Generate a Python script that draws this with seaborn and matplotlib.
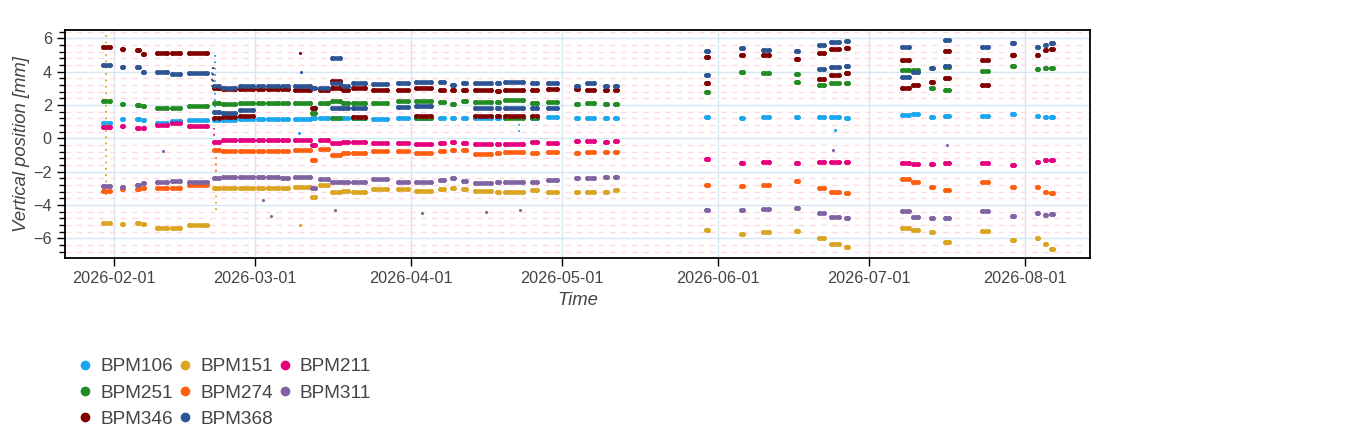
import matplotlib
matplotlib.use("Agg")
import matplotlib.pyplot as plt
import matplotlib.dates as mdates
from matplotlib.lines import Line2D
from matplotlib.ticker import MultipleLocator
import pandas as pd
import seaborn as sns

sns.set_theme(style="white")
plt.rcParams['font.family'] = ['Liberation Sans', 'DejaVu Sans']

bpms = ['BPM106', 'BPM151', 'BPM211', 'BPM251', 'BPM274', 'BPM311', 'BPM346', 'BPM368']
colors = ['#1aa7ee', '#daa520', '#e6007e', '#228b22', '#ff5f0f', '#8064a2', '#800000', '#2e5593']

# measurement sessions, days after 2026-02-01
sess_start = [-2.1, 1.5, 4.5, 5.7, 8.6, 11.5, 15.0, 19.8, 21.7, 25.0,
              28.6, 30.6, 33.4, 36.0, 39.4, 41.0, 43.3, 45.5, 47.5, 51.5,
              56.5, 60.0, 64.7, 67.1, 69.3, 71.7, 76.1, 77.8, 83.0, 86.3,
              91.8, 94.0, 97.6, 99.6, 117.6, 124.6, 129.0, 135.5, 140.2, 142.5,
              145.5, 156.6, 158.9, 162.4, 165.2, 172.6, 178.4, 183.4, 185.1, 186.3]
sess_end = [-0.8, 1.8, 4.9, 5.9, 10.5, 13.1, 18.5, 20.8, 24.0, 27.7,
            29.7, 32.6, 34.6, 39.0, 40.0, 42.5, 44.9, 46.5, 49.9, 54.2,
            58.5, 63.0, 65.5, 67.5, 70.0, 75.0, 76.5, 81.2, 84.0, 88.0,
            92.2, 95.4, 98.0, 100.0, 118.0, 125.0, 130.2, 135.9, 141.2, 144.2,
            145.9, 158.0, 159.8, 162.8, 165.9, 173.8, 178.8, 183.6, 185.3, 186.7]

# vertical position per session [mm]
bpm106 = [0.9, 1.15, 1.15, 1.1, 0.95, 1.05, 1.1, 1.12, 1.12, 1.14,
          1.14, 1.14, 1.15, 1.15, 1.2, 1.2, 1.2, 1.2, 1.2, 1.18,
          1.2, 1.2, 1.24, 1.24, 1.24, 1.24, 1.24, 1.3, 1.24, 1.28,
          1.24, 1.24, 1.2, 1.24, 1.3, 1.24, 1.3, 1.26, 1.3, 1.3,
          1.24, 1.4, 1.44, 1.3, 1.36, 1.36, 1.44, 1.36, 1.3, 1.26]
bpm151 = [-5.1, -5.15, -5.1, -5.15, -5.35, -5.35, -5.2, -2.95, -3.0, -2.98,
          -2.95, -2.95, -2.98, -2.9, -3.5, -2.8, -3.2, -3.15, -3.2, -3.05,
          -3.05, -3.13, -3.05, -3.0, -3.03, -3.15, -3.2, -3.2, -3.07, -3.2,
          -3.23, -3.2, -3.2, -3.1, -5.5, -5.73, -5.63, -5.55, -5.95, -6.35,
          -6.5, -5.4, -5.5, -5.6, -6.2, -5.55, -6.1, -5.95, -6.35, -6.65]
bpm211 = [0.7, 0.75, 0.65, 0.65, 0.8, 0.9, 0.75, -0.2, -0.1, -0.08,
          -0.1, -0.1, -0.12, -0.08, -0.4, -0.1, -0.3, -0.2, -0.24, -0.25,
          -0.3, -0.36, -0.26, -0.24, -0.3, -0.36, -0.32, -0.36, -0.24, -0.26,
          -0.14, -0.14, -0.2, -0.14, -1.26, -1.46, -1.44, -1.46, -1.4, -1.4,
          -1.4, -1.5, -1.56, -1.56, -1.5, -1.46, -1.6, -1.44, -1.3, -1.3]
bpm251 = [2.25, 2.05, 2.0, 1.96, 1.85, 1.84, 1.95, 2.1, 2.05, 2.1,
          2.1, 2.1, 2.12, 2.12, 1.5, 2.15, 2.24, 2.15, 2.15, 2.12,
          2.23, 2.25, 2.2, 2.08, 2.23, 2.2, 2.16, 2.3, 2.1, 2.16,
          2.04, 2.1, 2.05, 2.08, 2.8, 4.0, 3.95, 3.85, 3.2, 3.3,
          3.3, 4.1, 4.1, 3.05, 4.3, 4.03, 4.35, 4.15, 4.2, 4.2]
bpm274 = [-3.15, -3.05, -3.05, -2.95, -2.95, -2.95, -2.8, -0.7, -0.78, -0.74,
          -0.75, -0.75, -0.76, -0.72, -1.3, -0.64, -1.0, -0.9, -0.9, -0.78,
          -0.76, -0.9, -0.76, -0.7, -0.7, -0.94, -0.9, -0.8, -0.9, -0.84,
          -0.9, -0.84, -0.8, -0.8, -2.8, -2.83, -2.8, -2.55, -2.95, -3.2,
          -3.3, -2.43, -2.63, -2.9, -3.1, -2.6, -2.9, -2.9, -3.2, -3.25]
bpm311 = [-2.85, -2.9, -2.8, -2.7, -2.6, -2.55, -2.6, -2.4, -2.3, -2.3,
          -2.3, -2.32, -2.35, -2.32, -3.0, -2.43, -2.63, -2.63, -2.63, -2.45,
          -2.6, -2.63, -2.5, -2.4, -2.55, -2.65, -2.63, -2.6, -2.63, -2.5,
          -2.4, -2.4, -2.3, -2.32, -4.3, -4.3, -4.25, -4.15, -4.45, -4.7,
          -4.8, -4.35, -4.7, -4.8, -4.8, -4.35, -4.65, -4.5, -4.6, -4.55]
bpm346 = [5.5, 5.35, 5.3, 5.05, 5.15, 5.15, 5.12, 3.0, 2.95, 2.95,
          2.95, 2.95, 2.95, 2.92, 1.8, 2.9, 3.0, 2.93, 3.0, 2.9,
          2.93, 3.0, 2.93, 2.9, 2.9, 2.93, 2.87, 2.93, 2.93, 2.95,
          2.95, 2.93, 2.9, 2.93, 4.9, 5.03, 5.0, 4.75, 5.13, 5.35,
          5.4, 4.7, 3.2, 3.4, 5.23, 4.7, 5.03, 5.0, 5.3, 5.35]
bpm368 = [4.4, 4.3, 4.3, 4.0, 3.98, 3.85, 3.93, 3.15, 3.05, 3.15,
          3.15, 3.15, 3.17, 3.15, 3.05, 3.05, 3.3, 3.15, 3.3, 3.25,
          3.35, 3.4, 3.4, 3.23, 3.35, 3.35, 3.3, 3.4, 3.3, 3.35,
          3.15, 3.33, 3.15, 3.15, 5.23, 5.4, 5.33, 5.23, 5.63, 5.8,
          5.85, 5.5, 4.0, 4.23, 5.9, 5.5, 5.75, 5.5, 5.63, 5.75]

# second reading level seen in some sessions (session index, value)
alt346_idx = [7, 8, 9, 16, 18, 21, 25, 26, 27, 28, 34, 38, 39, 40, 41, 44, 45]
alt346_val = [1.25, 1.3, 1.36, 3.45, 1.3, 1.36, 1.36, 1.36, 1.36, 1.36, 3.3, 3.55, 3.83, 3.9, 3.0, 3.63, 3.2]
alt368_idx = [7, 8, 9, 16, 16, 17, 18, 20, 21, 25, 26, 27, 28, 29, 34, 38, 39, 40, 41, 44]
alt368_val = [1.6, 1.5, 1.7, 1.8, 4.8, 1.8, 1.8, 1.9, 1.95, 1.84, 1.84, 1.84, 1.8, 1.84, 3.8, 4.15, 4.3, 4.35, 3.7, 4.35]
alt251_idx = [16, 18, 21, 27, 28, 37, 44]
alt251_val = [1.24, 1.24, 1.24, 1.24, 1.24, 3.4, 2.9]

# sparse vertical excursions
streak_bpm = ['BPM151', 'BPM106', 'BPM346', 'BPM274', 'BPM151', 'BPM211', 'BPM368', 'BPM106']
streak_day = [-1.5, 20.0, 19.7, 20.3, 20.3, 19.9, 19.5, 80.6]
streak_lo = [-3.4, 1.1, 3.0, -2.4, -4.3, -0.2, 3.1, 0.4]
streak_hi = [6.3, 5.2, 4.5, -0.7, -3.0, 0.6, 4.0, 1.3]

# isolated readings
out_bpm = ['BPM346', 'BPM368', 'BPM311', 'BPM311', 'BPM151', 'BPM311', 'BPM311',
           'BPM311', 'BPM311', 'BPM106', 'BPM311', 'BPM311', 'BPM106', 'BPM311']
out_day = [37.0, 37.2, 31.3, 29.7, 37.0, 44.0, 61.2, 74.0, 80.7, 36.8, 9.8, 143.0, 143.3, 165.5]
out_val = [5.1, 4.0, -4.65, -3.7, -5.2, -4.3, -4.5, -4.4, -4.3, 0.3, -0.76, -0.7, 0.5, -0.4]

values = dict(zip(bpms, [bpm106, bpm151, bpm211, bpm251, bpm274, bpm311, bpm346, bpm368]))
palette = dict(zip(bpms, colors))
alts = {'BPM346': (alt346_idx, alt346_val), 'BPM368': (alt368_idx, alt368_val),
        'BPM251': (alt251_idx, alt251_val)}
t0 = mdates.date2num(pd.Timestamp('2026-02-01'))

rows = []
for name in bpms:
    for i, v in enumerate(values[name]):
        rows.append((name, t0 + sess_start[i], t0 + sess_end[i], v))
    if name in alts:
        for i, v in zip(*alts[name]):
            rows.append((name, t0 + sess_start[i], t0 + sess_end[i], v))
seg = pd.DataFrame(rows, columns=['bpm', 'start', 'end', 'value'])
pts = pd.concat([seg[['bpm', 'start', 'value']].rename(columns={'start': 't'}),
                 seg[['bpm', 'end', 'value']].rename(columns={'end': 't'})])
outl = pd.DataFrame({'bpm': out_bpm, 't': [t0 + d for d in out_day], 'value': out_val})

fig = plt.figure(figsize=(13.66, 4.30), dpi=100)
ax = fig.add_axes([65 / 1366, 172 / 430, 1025 / 1366, 228 / 430])

for name in bpms:
    s = seg[seg['bpm'] == name]
    ax.hlines(s['value'], s['start'], s['end'], colors=palette[name],
              linewidth=3.3, capstyle='round', zorder=3)
    for b, d, lo, hi in zip(streak_bpm, streak_day, streak_lo, streak_hi):
        if b == name:
            ax.vlines(t0 + d, lo, hi, colors=palette[name], linewidth=1.3,
                      linestyles=(0, (1, 2.5)), zorder=3)
    sns.scatterplot(data=pts[pts['bpm'] == name], x='t', y='value', color=palette[name],
                    s=12, linewidth=0, ax=ax, legend=False, zorder=4)
    sns.scatterplot(data=outl[outl['bpm'] == name], x='t', y='value', color=palette[name],
                    s=5, linewidth=0, ax=ax, legend=False, zorder=4)

ax.set_xlim(t0 - 9.74, t0 + 194.0)
ax.set_ylim(-7.18, 6.5)
ax.xaxis.set_major_locator(mdates.MonthLocator(bymonthday=1))
ax.xaxis.set_major_formatter(mdates.DateFormatter('%Y-%m-%d'))
ax.yaxis.set_major_locator(MultipleLocator(2))
ax.yaxis.set_minor_locator(MultipleLocator(0.4))

ax.grid(True, which='major', color='#d6e7f2', linewidth=1.0, zorder=0)
ax.grid(True, which='minor', axis='y', color='#ffd9e2', linewidth=1.0,
        linestyle=(0, (4, 4)), zorder=0)
ax.set_axisbelow(True)
for sp in ax.spines.values():
    sp.set_color('black')
    sp.set_linewidth(1.3)
ax.tick_params(axis='both', which='major', direction='out', length=6, width=1,
               color='black', labelsize=11.7, labelcolor='#444444', left=True, bottom=True)
ax.tick_params(axis='y', which='minor', direction='out', length=4, width=1,
               color='black', left=True)
ax.set_xlabel('Time', fontsize=13.3, style='italic', color='#444444', labelpad=4)
ax.set_ylabel('Vertical position [mm]', fontsize=13.3, style='italic', color='#444444', labelpad=2)

order = ['BPM106', 'BPM251', 'BPM346', 'BPM151', 'BPM274', 'BPM368', 'BPM211', 'BPM311']
handles = [Line2D([], [], marker='o', linestyle='', markersize=7, markeredgewidth=0,
                  color=palette[n]) for n in order]
fig.legend(handles, order, ncol=3, loc='upper left', bbox_to_anchor=(77.5 / 1366, 1 - 358 / 430),
           frameon=False, fontsize=13.7, handlelength=0.8, handletextpad=0.4,
           columnspacing=0.22, labelspacing=0.47, borderpad=0, borderaxespad=0,
           labelcolor='#444444')

fig.savefig('out.png', dpi=100)
